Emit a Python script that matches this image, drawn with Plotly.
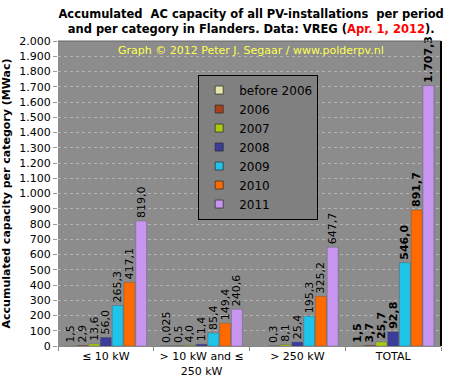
import plotly.graph_objects as go

categories = ["≤ 10 kW", "> 10 kW and ≤<br>250 kW", "> 250 kW", "TOTAL"]
series_names = ["before 2006", "2006", "2007", "2008", "2009", "2010", "2011"]
before_2006 = [1.5, 0.025, None, 1.5]
y2006 = [2.9, 0.5, 0.3, 3.7]
y2007 = [13.6, 4.0, 8.1, 25.7]
y2008 = [56.0, 11.4, 25.4, 92.8]
y2009 = [265.3, 85.4, 195.3, 546.0]
y2010 = [417.1, 149.4, 325.2, 891.7]
y2011 = [819.0, 240.6, 647.7, 1707.3]
series_values = [before_2006, y2006, y2007, y2008, y2009, y2010, y2011]
colors = ["#e6e6a8", "#a8401c", "#a8cc10", "#3c3c9c", "#20c4e8", "#ff6a00", "#c896f0"]
y_ticks = list(range(0, 2001, 100))


def fmt(v):
    if v is None:
        return ""
    dec = 3 if v < 0.1 else 1
    s = f"{v:,.{dec}f}"
    return s.replace(",", "X").replace(".", ",").replace("X", ".")


fig = go.Figure()
for name, vals, col in zip(series_names, series_values, colors):
    texts = []
    for i, v in enumerate(vals):
        t = fmt(v)
        if i == 3 and t:
            t = f"<b>{t}</b>"
        texts.append(t)
    fig.add_trace(go.Bar(
        name=name, x=categories, y=vals, text=texts,
        textposition="outside", textangle=-90, constraintext="none",
        textfont=dict(family="DejaVu Sans", size=11, color="black"),
        marker=dict(color=col, line=dict(color="rgba(60,60,60,0.5)", width=0.5)),
        cliponaxis=False, showlegend=False,
    ))
for name, col in zip(series_names, colors):
    fig.add_trace(go.Scatter(
        name=name, x=[None], y=[None], mode="markers",
        marker=dict(symbol="square", size=8, color=col,
                    line=dict(color="rgba(40,40,40,0.7)", width=1)),
        showlegend=True,
    ))

fig.update_layout(
    width=455, height=391,
    separators=",.",
    barmode="group", bargap=0.14, bargroupgap=0.08,
    paper_bgcolor="white", plot_bgcolor="#8c8c8c",
    margin=dict(l=58, r=14, t=41, b=45, autoexpand=False),
    font=dict(family="DejaVu Sans", size=11, color="black"),
    title=dict(
        text="<b>Accumulated  AC capacity of all PV-installations  per period<br>and per category in Flanders. Data: VREG (<span style='color:red'>Apr. 1, 2012</span>).</b>",
        x=0.552, xanchor="center", y=0.953, yanchor="top", xref="container", yref="container",
        font=dict(family="DejaVu Sans", size=11.5, color="black"),
    ),
    legend=dict(
        x=0.366, y=0.89, xanchor="left", yanchor="top",
        bgcolor="#808080", bordercolor="black", borderwidth=1,
        font=dict(family="DejaVu Sans", size=12, color="black"),
        tracegroupgap=0, itemwidth=30,
    ),
    showlegend=True,
    annotations=[dict(
        text="Graph © 2012 Peter J. Segaar / www.polderpv.nl",
        x=0.505, y=0.997, xref="paper", yref="paper", xanchor="center", yanchor="top",
        showarrow=False, font=dict(family="DejaVu Sans", size=11, color="#ffff50"),
    )],
)
fig.update_yaxes(
    range=[0, 2000], tickvals=y_ticks, tickformat=",.0f",
    showgrid=True, gridcolor="#b4b4b4", griddash="dot", gridwidth=1,
    ticks="outside", ticklen=4, tickcolor="#999",
    showline=False, automargin=False,
    tickfont=dict(size=11, color="black"),
    title=dict(text="<b>Accumulated capacity per category (MWac)</b>",
               font=dict(size=11, color="black")),
    zeroline=False,
)
fig.update_xaxes(
    showline=True, linecolor="#888", linewidth=1, automargin=False,
    ticks="outside", ticklen=4, tickcolor="#888", tickson="boundaries",
    tickfont=dict(size=11, color="black"), showgrid=False,
)
fig.add_shape(type="line", xref="paper", yref="paper", x0=1, x1=1, y0=0, y1=1,
              line=dict(color="black", width=2))
fig.add_shape(type="line", xref="paper", yref="paper", x0=0, x1=1, y0=1, y1=1,
              line=dict(color="#666", width=1))
fig.write_html("out.html", config={"displayModeBar": False},
               post_script="document.body.style.margin='0';document.body.style.overflow='hidden';")
